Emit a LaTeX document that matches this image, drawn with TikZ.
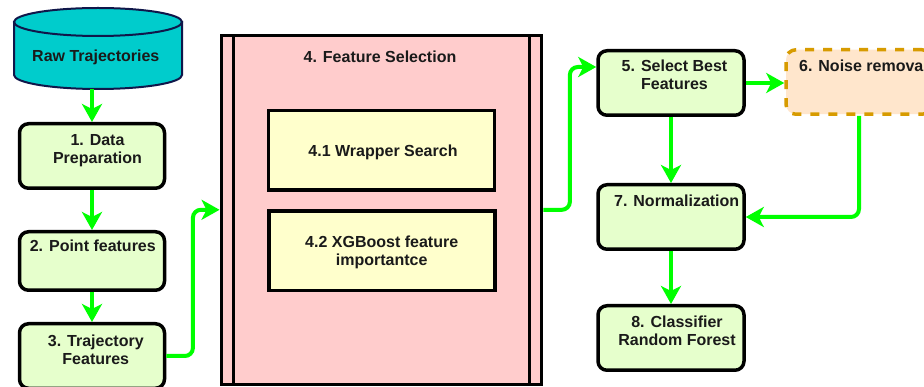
\documentclass[tikz,border=0pt]{standalone}
\usepackage{fontspec}
\setmainfont{Liberation Sans}
\usetikzlibrary{arrows.meta,calc}
\definecolor{flowgreen}{HTML}{00FF00}
\definecolor{procfill}{HTML}{E6FFCC}
\definecolor{selfill}{HTML}{FFCCCC}
\definecolor{subfill}{HTML}{FFFFCC}
\definecolor{noisefill}{HTML}{FFE6CC}
\definecolor{noisedraw}{HTML}{D79B00}
\definecolor{cylfill}{HTML}{00CCCC}
\definecolor{cyldraw}{HTML}{10174A}
\definecolor{txt}{HTML}{1A1A1A}
\begin{document}
\begin{tikzpicture}[x=1pt,y=-1pt,
  lbl/.style={font=\fontsize{16}{17.7}\selectfont\bfseries, align=center, inner sep=0pt, text=txt},
  proc/.style={draw=black, line width=3.5pt, rounded corners=9pt, fill=procfill, minimum width=145pt, minimum height=64.5pt, inner sep=0pt},
  selbox/.style={draw=black, line width=3.5pt, fill=selfill, minimum width=320.4pt, minimum height=349pt, inner sep=0pt},
  subbox/.style={draw=black, line width=3.5pt, fill=subfill, minimum width=226pt, minimum height=79.5pt, inner sep=0pt},
  noisebox/.style={draw=noisedraw, line width=3.5pt, dash pattern=on 9pt off 9pt, rounded corners=10pt, fill=noisefill, minimum width=146pt, minimum height=64.5pt, inner sep=0pt},
  cylstyle/.style={draw=cyldraw, fill=cylfill, line width=2pt},
  flow/.style={draw=flowgreen, line width=4pt, rounded corners=8pt, -{Stealth[length=18pt,width=20pt,inset=5pt]}},
]
\useasboundingbox (0,0) rectangle (924,387);
\clip (0,0) rectangle (924,387);
\fill[white] (0,0) rectangle (924,387);

% cylinder
\filldraw[cylstyle] (14,22) -- (14,75) arc[start angle=180,end angle=360,x radius=84pt,y radius=14pt] -- (182,22) -- cycle;
\filldraw[cylstyle] (98,22) ellipse[x radius=84pt,y radius=14pt];
\coordinate (cylbot) at (92,89);

% boxes
\node[proc] (b1) at (92,156) {};
\node[proc, minimum height=58.5pt] (b2) at (92,261) {};
\node[proc] (b3) at (92,356) {};
\node[selbox] (b4) at (381.5,209.8) {};
\draw[line width=3.5pt] ($(b4.north west)+(14,1.75)$) -- ($(b4.south west)+(14,-1.75)$);
\draw[line width=3.5pt] ($(b4.north east)+(-14,1.75)$) -- ($(b4.south east)+(-14,-1.75)$);
\node[subbox] (b41) at (381.5,150.5) {};
\node[subbox] (b42) at (382,251) {};
\node[proc, minimum width=146pt] (b5) at (671,83) {};
\node[noisebox] (b6) at (859,82) {};
\node[proc, minimum width=146pt] (b7) at (671,217) {};
\node[proc, minimum width=146pt] (b8) at (671,338) {};

% texts
\node[lbl] (traw) at (95.8,56.9) {Raw Trajectories};
\node[lbl] (t1) at (97.5,151) {1. Data\\Preparation};
\node[lbl] (t2) at (92.8,246.2) {2. Point features};
\node[lbl] (t3) at (95.8,350) {3. Trajectory\\Features};
\node[lbl] (t4) at (380,56.5) {4. Feature Selection};
\node[lbl] (t41) at (383,151.9) {4.1 Wrapper Search};
\node[lbl] (t42) at (381.7,252.5) {4.2 XGBoost feature\\importantce};
\node[lbl] (t5) at (674.5,75) {5. Select Best\\Features};
\node[lbl] (t6) at (863.5,66.2) {6. Noise removal};
\node[lbl] (t7) at (676.7,200.5) {7. Normalization};
\node[lbl] (t8) at (677,330.7) {8. Classifier\\Random Forest};

% connectors
\draw[flow] (cylbot) -- (b1.north);
\draw[flow] (b1.south) -- (b2.north);
\draw[flow] (b2.south) -- (b3.north);
\draw[flow] (b3.east) -| ($(b3.east)!.5!(b4.west)$) |- (b4.west);
\draw[flow] (b4.east) -| ($(b4.east)!.5!(b5.west)$) |- ($(b5.west)+(0,-16)$);
\draw[flow] (b5.east) -- (b6.west |- b5.east);
\draw[flow] (b5.south) -- (b7.north);
\draw[flow] (b6.south) |- (b7.east);
\draw[flow] (b7.south) -- (b8.north);
\end{tikzpicture}
\end{document}
